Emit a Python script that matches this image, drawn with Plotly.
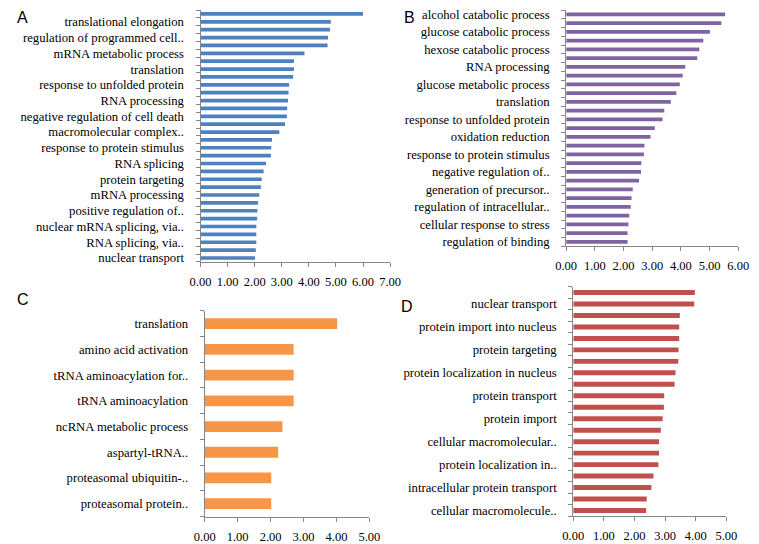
import plotly.graph_objects as go

# ---------------- data ----------------
# Panel A (top to bottom); "" = category whose label is hidden in the original
a_labels = ["", "translational elongation", "", "regulation of programmed cell..", "",
            "mRNA metabolic process", "", "translation", "", "response to unfolded protein", "",
            "RNA processing", "", "negative regulation of cell death", "", "macromolecular complex..",
            "", "response to protein stimulus", "", "RNA splicing", "", "protein targeting", "",
            "mRNA processing", "", "positive regulation of..", "", "nuclear mRNA splicing, via..",
            "", "RNA splicing, via..", "", "nuclear transport"]
a_values = [6.00, 4.81, 4.78, 4.71, 4.69, 3.84, 3.45, 3.45, 3.42, 3.27, 3.25, 3.23, 3.20, 3.19,
            3.12, 2.91, 2.64, 2.61, 2.60, 2.42, 2.33, 2.26, 2.23, 2.17, 2.12, 2.10, 2.09, 2.06,
            2.06, 2.06, 2.04, 2.01]

b_labels = ["alcohol catabolic process", "", "glucose catabolic process", "",
            "hexose catabolic process", "", "RNA processing", "", "glucose metabolic process", "",
            "translation", "", "response to unfolded protein", "", "oxidation reduction", "",
            "response to protein stimulus", "", "negative regulation of..", "",
            "generation of precursor..", "", "regulation of intracellular..", "",
            "cellular response to stress", "", "regulation of binding"]
b_values = [5.54, 5.41, 5.01, 4.78, 4.64, 4.57, 4.15, 4.06, 3.96, 3.84, 3.65, 3.42, 3.36, 3.09,
            2.94, 2.73, 2.71, 2.62, 2.61, 2.54, 2.32, 2.28, 2.25, 2.20, 2.17, 2.14, 2.14]

c_labels = ["translation", "amino acid activation", "tRNA aminoacylation for..",
            "tRNA aminoacylation", "ncRNA metabolic process", "aspartyl-tRNA..",
            "proteasomal ubiquitin-..", "proteasomal protein.."]
c_values = [4.02, 2.70, 2.70, 2.70, 2.36, 2.23, 2.02, 2.02]

d_labels = ["", "nuclear transport", "", "protein import into nucleus", "", "protein targeting",
            "", "protein localization in nucleus", "", "protein transport", "", "protein import",
            "", "cellular macromolecular..", "", "protein localization in..", "",
            "intracellular protein transport", "", "cellular macromolecule.."]
d_values = [3.97, 3.95, 3.48, 3.46, 3.46, 3.44, 3.43, 3.34, 3.31, 2.97, 2.96, 2.92, 2.86, 2.80,
            2.80, 2.78, 2.62, 2.55, 2.40, 2.38]

x_max = {"A": 7, "B": 6, "C": 5, "D": 5}
colors = {"A": "#4F81BD", "B": "#8064A2", "C": "#F79646", "D": "#C0504D"}

# ---------------- layout geometry (page pixels) ----------------
OFF = 8                      # default body margin of the html page
W, H = 759 - OFF, 544 - OFF  # figure size so that it ends at the window edge
boxes = {  # x0, x1, ytop, ybottom in page pixels
    "A": (195.0, 390.3, 8.0, 262.3),
    "B": (571.7, 749.0, 8.0, 246.5),
    "C": (199.3, 369.0, 311.7, 519.3),
    "D": (579.0, 736.7, 287.4, 519.0),
}
panels = [("A", a_labels, a_values, 0.47, 1),
          ("B", b_labels, b_values, 0.45, 2),
          ("C", c_labels, c_values, 0.42, 3),
          ("D", d_labels, d_values, 0.43, 4)]

AX = "#868686"
SERIF = "Liberation Serif, Times New Roman, serif"
label_font = dict(family=SERIF, size=12.7, color="#000000")


def fx(px):
    return min(1.0, max(0.0, (px - OFF) / W))


def fy(py):
    return min(1.0, max(0.0, 1 - (py - OFF) / H))


fig = go.Figure()
for key, labels, values, bw, i in panels:
    n = len(values)
    pos = list(range(n))
    xs = "x" if i == 1 else f"x{i}"
    ys = "y" if i == 1 else f"y{i}"
    fig.add_trace(go.Bar(x=values, y=pos, orientation="h", width=bw,
                         marker=dict(color=colors[key], line=dict(width=0)),
                         xaxis=xs, yaxis=ys, showlegend=False, hoverinfo="x"))
    x0, x1, yt, yb = boxes[key]
    tv = [p for p, l in zip(pos, labels) if l]
    tt = [l for l in labels if l]
    xa = dict(domain=[fx(x0), fx(x1)], anchor=ys, range=[0, x_max[key]],
              tickmode="linear", tick0=0, dtick=1, tickformat=".2f",
              showgrid=False, zeroline=False, showline=True, linecolor=AX, linewidth=1,
              ticks="outside", ticklen=4, tickcolor=AX, ticklabelstandoff=4,
              ticklabeloverflow="allow",
              tickfont=dict(family=SERIF, size=12.5, color="#000000"), fixedrange=True)
    ya = dict(domain=[fy(yb), fy(yt)], anchor=xs, range=[n - 0.5, -0.5],
              tickmode="array", tickvals=tv, ticktext=tt, ticks="",
              showgrid=False, zeroline=False, showline=True, linecolor=AX, linewidth=1,
              minor=dict(tickmode="linear", tick0=0.5, dtick=1, ticks="outside", ticklen=4,
                         tickcolor=AX, showgrid=False),
              ticklabelstandoff=13, ticklabeloverflow="allow",
              tickfont=label_font, fixedrange=True)
    suf = "" if i == 1 else str(i)
    fig.layout["xaxis" + suf] = xa
    fig.layout["yaxis" + suf] = ya

letters = [("A", 12, 16), ("B", 410, 16), ("C", 12, 300), ("D", 408, 307)]
for t, x, y in letters:
    fig.add_annotation(text=t, x=fx(x), y=fy(y), xref="paper", yref="paper",
                       showarrow=False, xanchor="center", yanchor="middle",
                       font=dict(family="Liberation Sans, Arial, sans-serif", size=16,
                                 color="#000000"))

fig.update_layout(width=W, height=H, margin=dict(l=0, r=0, t=0, b=0),
                  paper_bgcolor="white", plot_bgcolor="white", bargap=0.5)

fig.write_html("out.html")
